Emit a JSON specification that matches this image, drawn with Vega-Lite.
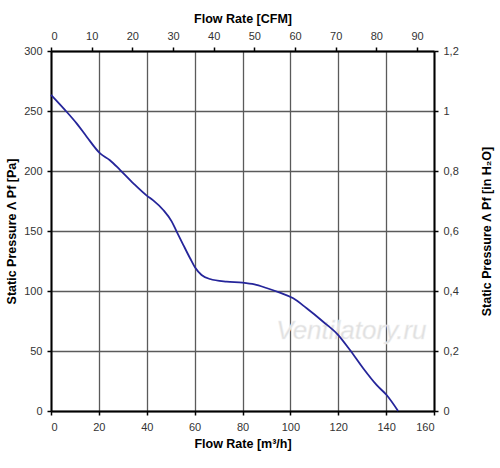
{
  "$schema": "https://vega.github.io/schema/vega-lite/v6.json",
  "width": 383,
  "height": 360,
  "autosize": {"type": "none"},
  "padding": {"left": 51, "top": 51, "right": 66, "bottom": 57},
  "background": "white",
  "config": {
    "view": {"stroke": null},
    "font": "Liberation Sans",
    "axis": {
      "labelFont": "Liberation Sans",
      "labelFontSize": 11,
      "labelColor": "#333333",
      "titleFont": "Liberation Sans",
      "titleFontSize": 12.5,
      "titleFontWeight": "bold",
      "titleColor": "#000000",
      "domainColor": "#000000",
      "domainWidth": 2,
      "tickColor": "#000000",
      "tickWidth": 1.5,
      "tickSize": 4,
      "labelPadding": 5
    }
  },
  "datasets": {
    "curve": [
      {"flow": 0, "pressure": 263.5},
      {"flow": 5.8, "pressure": 251},
      {"flow": 10.7, "pressure": 239.7},
      {"flow": 14.9, "pressure": 228.6},
      {"flow": 20.5, "pressure": 214.7},
      {"flow": 24.6, "pressure": 209},
      {"flow": 28.8, "pressure": 201},
      {"flow": 34.4, "pressure": 189.7},
      {"flow": 40, "pressure": 179.5},
      {"flow": 42.7, "pressure": 175.5},
      {"flow": 46.9, "pressure": 167.5},
      {"flow": 50.4, "pressure": 158},
      {"flow": 52.5, "pressure": 149.5},
      {"flow": 55.3, "pressure": 138.3},
      {"flow": 58.1, "pressure": 127.3},
      {"flow": 60.2, "pressure": 119.5},
      {"flow": 62.9, "pressure": 113.3},
      {"flow": 66.4, "pressure": 110},
      {"flow": 73.4, "pressure": 107.8},
      {"flow": 80, "pressure": 107},
      {"flow": 85, "pressure": 105.5},
      {"flow": 90, "pressure": 102.5},
      {"flow": 95.6, "pressure": 98.6},
      {"flow": 101.2, "pressure": 93.9},
      {"flow": 106.8, "pressure": 85.6},
      {"flow": 113.7, "pressure": 74.4},
      {"flow": 120, "pressure": 63.3},
      {"flow": 124.9, "pressure": 50.8},
      {"flow": 130.4, "pressure": 35.6},
      {"flow": 136, "pressure": 21.7},
      {"flow": 140.2, "pressure": 13.3},
      {"flow": 145, "pressure": 0}
    ],
    "secondary": [
      {"cfm": 0, "inh2o": 0},
      {"cfm": 94.17, "inh2o": 1.2}
    ],
    "mark": [
      {"flow": 125.5, "pressure": 67, "label": "Ventilatory.ru"}
    ]
  },
  "layer": [
    {
      "layer": [
        {
          "data": {"name": "mark"},
          "mark": {"type": "text", "fontSize": 26, "fontStyle": "italic", "font": "Liberation Sans", "color": "#e0e0e0", "stroke": "#f2f2f2", "strokeWidth": 0.5},
          "encoding": {
            "x": {"field": "flow", "type": "quantitative"},
            "y": {"field": "pressure", "type": "quantitative"},
            "text": {"field": "label"}
          }
        },
        {
          "data": {"name": "curve"},
          "mark": {"type": "line", "color": "#25259a", "strokeWidth": 1.8, "interpolate": "monotone"},
          "encoding": {
            "x": {
              "field": "flow", "type": "quantitative",
              "scale": {"domain": [0, 160], "nice": false, "zero": false},
              "axis": {
                "orient": "bottom",
                "values": [0, 20, 40, 60, 80, 100, 120, 140, 160],
                "grid": true, "gridColor": "#5a5a5a", "gridWidth": 1.3,
                "title": "Flow Rate [m³/h]",
                "titlePadding": 5,
                "labelPadding": 6
              }
            },
            "y": {
              "field": "pressure", "type": "quantitative",
              "scale": {"domain": [0, 300], "nice": false},
              "axis": {
                "orient": "left",
                "values": [0, 50, 100, 150, 200, 250, 300],
                "grid": true, "gridColor": "#5a5a5a", "gridWidth": 1.3,
                "title": "Static Pressure Λ Pf [Pa]",
                "titlePadding": 5
              }
            }
          }
        }
      ]
    },
    {
      "data": {"name": "secondary"},
      "mark": {"type": "point", "opacity": 0},
      "encoding": {
        "x": {
          "field": "cfm", "type": "quantitative",
          "scale": {"domain": [0, 94.17], "nice": false},
          "axis": {
            "orient": "top",
            "values": [0, 10, 20, 30, 40, 50, 60, 70, 80, 90],
            "grid": false,
            "title": "Flow Rate [CFM]",
            "titlePadding": 5,
            "labelPadding": 6
          }
        },
        "y": {
          "field": "inh2o", "type": "quantitative",
          "scale": {"domain": [0, 1.2], "nice": false},
          "axis": {
            "orient": "right",
            "values": [0, 0.2, 0.4, 0.6, 0.8, 1, 1.2],
            "labelExpr": "replace(format(datum.value, '~g'), '.', ',')",
            "grid": false,
            "title": "Static Pressure Λ Pf [in H₂O]",
            "titleAngle": 270,
            "titlePadding": 35
          }
        }
      }
    }
  ],
  "resolve": {"scale": {"x": "independent", "y": "independent"}}
}
